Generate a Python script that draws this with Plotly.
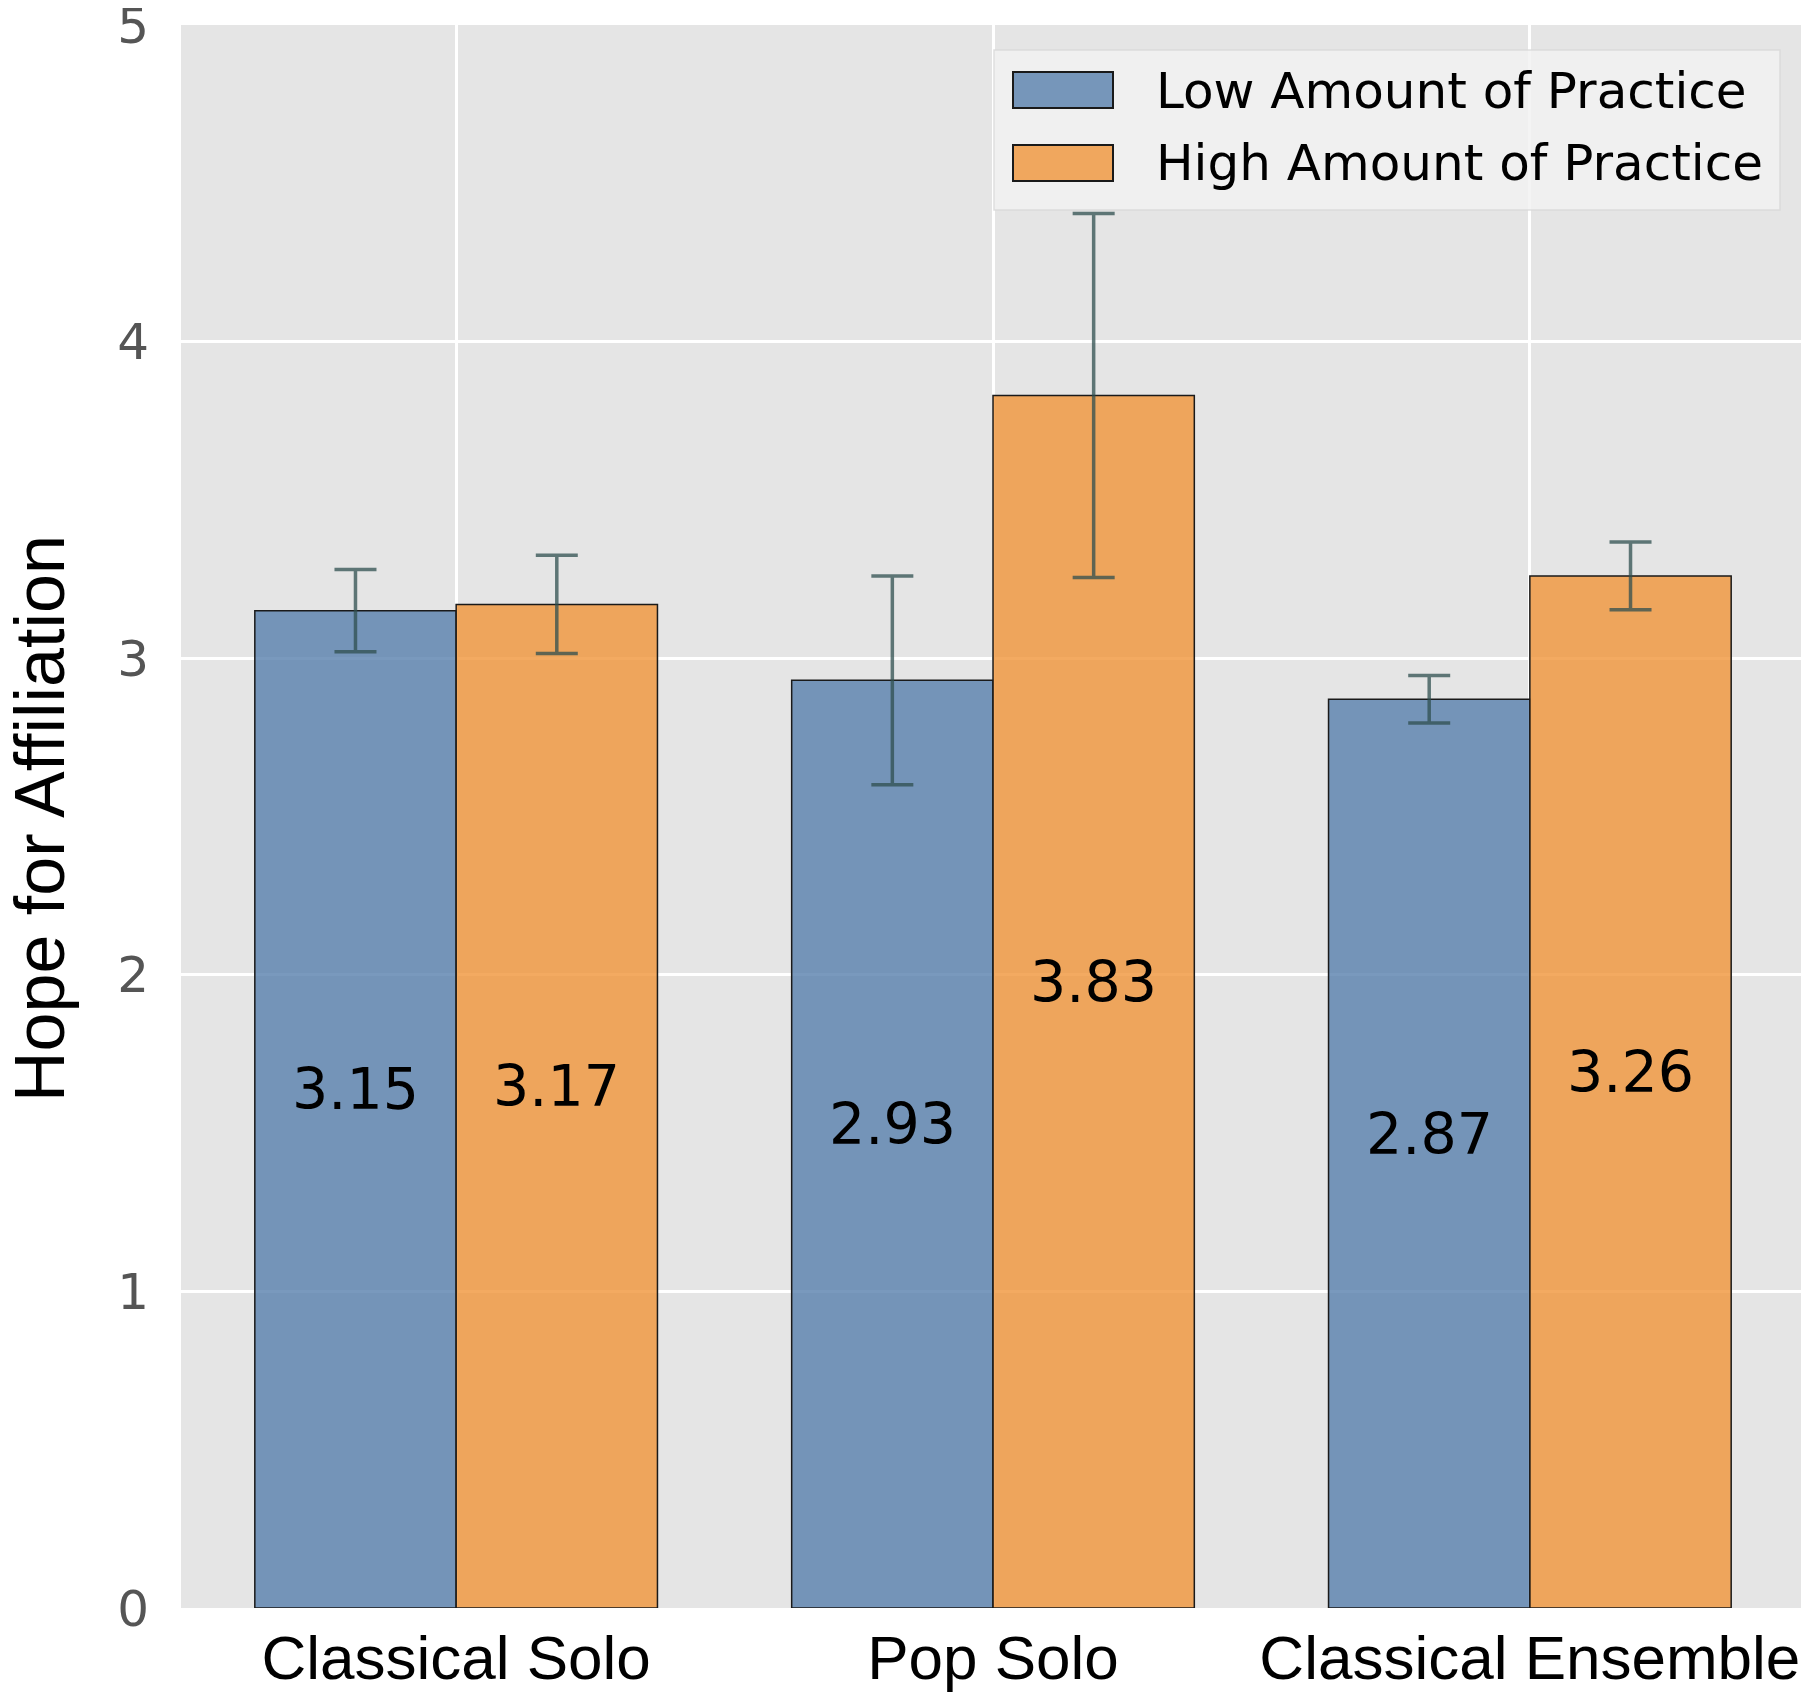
import plotly.graph_objects as go

categories = ["Classical Solo", "Pop Solo", "Classical Ensemble"]
low_practice = [3.15, 2.93, 2.87]
high_practice = [3.17, 3.83, 3.26]
low_err = [0.13, 0.33, 0.075]
high_err = [0.155, 0.575, 0.107]
series_names = ["Low Amount of Practice", "High Amount of Practice"]
y_ticks = [0, 1, 2, 3, 4, 5]

# browser body keeps an 8px margin, so the figure is a bit smaller than the window
PAGE_OFF = 8
W, H = 1809 - PAGE_OFF, 1705 - PAGE_OFF
L, R, T, B = 181 - PAGE_OFF, 4, 25 - PAGE_OFF, 97
bar_w = 0.375

blue = "rgba(87,127,172,0.8)"
orange = "rgba(240,149,57,0.8)"
err_col = "rgba(47,79,79,0.75)"


def px(x, y):
    # pixel in the screenshot -> paper coords
    x, y = x - PAGE_OFF, y - PAGE_OFF
    return (x - L) / (W - L - R), (H - B - y) / (H - T - B)


xs = list(range(len(categories)))
fig = go.Figure()

for vals, errs, name, col, off in [
    (low_practice, low_err, series_names[0], blue, -bar_w),
    (high_practice, high_err, series_names[1], orange, 0.0),
]:
    fig.add_trace(go.Bar(
        x=xs, y=vals, name=name, width=bar_w, offset=off,
        marker=dict(color=col, line=dict(color="#1a1a1a", width=1.5)),
        error_y=dict(type="data", array=errs, color=err_col,
                     thickness=3.5, width=21),
        showlegend=False,
    ))
    for i, v in zip(xs, vals):
        fig.add_annotation(
            x=i + off + bar_w / 2, y=v / 2, text=f"{v:.2f}", showarrow=False,
            xanchor="center", yanchor="middle", yshift=20,
            font=dict(family="DejaVu Sans", size=57, color="black"),
        )

# legend drawn by hand so the swatches match the original size
x0, y0 = px(994, 210)
x1, y1 = px(1780, 50)
fig.add_shape(type="rect", xref="paper", yref="paper", x0=x0, x1=x1, y0=y0, y1=y1,
              fillcolor="rgba(242,242,242,0.85)", line=dict(color="rgba(215,215,215,0.8)", width=1.5),
              layer="above")
for name, col, ytop, ybot, ytxt in [
    (series_names[0], blue, 72, 108, 91),
    (series_names[1], orange, 145, 181, 163),
]:
    sx0, sy0 = px(1013, ybot)
    sx1, sy1 = px(1113, ytop)
    fig.add_shape(type="rect", xref="paper", yref="paper", x0=sx0, x1=sx1, y0=sy0, y1=sy1,
                  fillcolor=col, line=dict(color="#1a1a1a", width=2), layer="above")
    tx, ty = px(1154, ytxt)
    fig.add_annotation(text=name, xref="paper", yref="paper", x=tx, y=ty,
                       xanchor="left", yanchor="middle", showarrow=False,
                       font=dict(family="DejaVu Sans", size=50, color="black"))

tx, ty = px(40, 819)
fig.add_annotation(text="Hope for Affiliation", xref="paper", yref="paper", x=tx, y=ty,
                   textangle=-90, xanchor="center", yanchor="middle", showarrow=False,
                   font=dict(family="Liberation Sans", size=70, color="black"))

fig.update_layout(
    width=W, height=H,
    margin=dict(l=L, r=R, t=T, b=B),
    paper_bgcolor="white", plot_bgcolor="#e5e5e5",
    barmode="overlay",
    xaxis=dict(
        range=[-0.5125, 2.5125], tickvals=xs, ticktext=categories,
        showgrid=True, gridcolor="white", gridwidth=2.5, zeroline=False,
        ticks="", ticklabelstandoff=8, automargin=False,
        tickfont=dict(family="Liberation Sans", size=62, color="black"),
    ),
    yaxis=dict(
        range=[0, 5], tickvals=y_ticks,
        showgrid=True, gridcolor="white", gridwidth=2.5, zeroline=False,
        ticks="", ticklabelstandoff=31, ticklabeloverflow="allow", automargin=False,
        tickfont=dict(family="DejaVu Sans", size=50, color="#555555"),
    ),
)

fig.write_html("out.html")
